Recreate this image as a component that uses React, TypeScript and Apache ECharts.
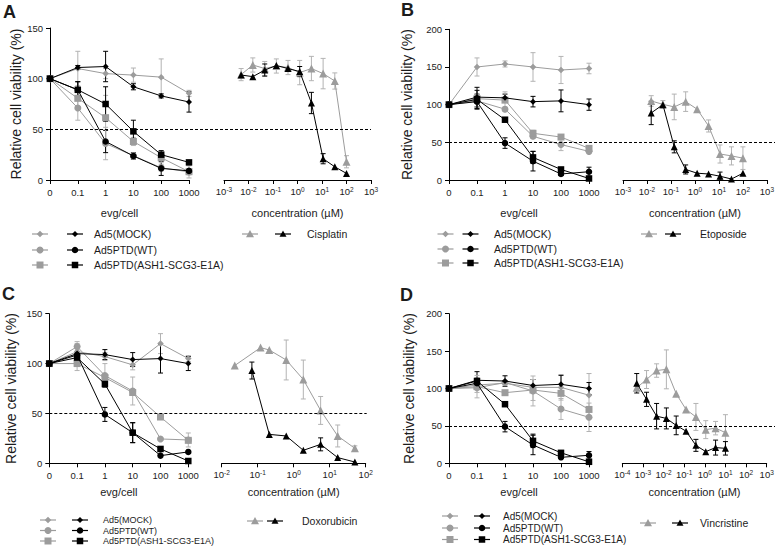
import React, { useEffect, useRef } from 'react';
import * as echarts from 'echarts';

// ---------- categories & labels ----------
const evgCategories = ['0', '0.1', '1', '10', '100', '1000'];
const legendNames = ['Ad5(MOCK)', 'Ad5PTD(WT)', 'Ad5PTD(ASH1-SCG3-E1A)'];
const drugNames = ['Cisplatin', 'Etoposide', 'Doxorubicin', 'Vincristine'];
const panelLetters = ['A', 'B', 'C', 'D'];
const yTitle = 'Relative cell viability (%)';
const xTitleLeft = 'evg/cell';
const xTitleRight = 'concentration (µM)';
const threshold = 50;

// ---------- Panel A (Cisplatin) ----------
const A_mockGray = [100, 110, 105, 103.5, 101.5, 85.5];
const A_mockGraySd = [0, 17, 5, 7, 18, 3];
const A_mockBlack = [100, 111, 112, 92, 83, 77];
const A_mockBlackSd = [0, 2, 15, 3, 2, 10];
const A_wtGray = [100, 71, 36, 24, 12, 8];
const A_wtGraySd = [0, 12, 16, 3, 3, 6];
const A_wtBlack = [100, 89, 38, 23.7, 11.5, 9];
const A_wtBlackSd = [0, 8, 11, 3, 7, 1];
const A_ashGray = [100, 80.6, 61.5, 38, 22, 8.2];
const A_ashGraySd = [0, 8, 22, 4, 5, 3];
const A_ashBlack = [100, 89, 75, 48, 25, 17.4];
const A_ashBlackSd = [0, 8, 17, 11, 4, 1];
const A_concGray = [0.005, 0.015, 0.046, 0.137, 0.41, 1.23, 3.7, 11.1, 33.3, 100];
const A_drugGray = [104, 113.5, 110, 112.5, 111, 106, 110, 105, 97.7, 18];
const A_drugGraySd = [6, 7, 7, 7, 7, 12, 12, 15, 8, 6];
const A_concBlack = [0.005, 0.015, 0.046, 0.137, 0.41, 1.23, 3.7, 11.1, 33.3, 100];
const A_drugBlack = [103.6, 102, 108.5, 113, 110, 107, 76, 21, 13, 6.5];
const A_drugBlackSd = [0, 0, 6, 0, 0, 5, 10.5, 5, 0, 0];

// ---------- Panel B (Etoposide) ----------
const B_mockGray = [100, 150, 154, 150, 146, 148];
const B_mockGraySd = [0, 12, 4, 19, 18, 7];
const B_mockBlack = [100, 110, 109, 104, 105, 100];
const B_mockBlackSd = [0, 13, 5, 7, 14.5, 7.5];
const B_wtGray = [100, 105, 94, 58, 47, 38];
const B_wtGraySd = [0, 8, 3, 3, 8, 3];
const B_wtBlack = [100, 104, 49, 25, 8, 11];
const B_wtBlackSd = [0, 10, 7, 13, 2, 6];
const B_ashGray = [100, 108, 106, 62, 57, 42];
const B_ashGraySd = [0, 5, 11, 4, 2, 3];
const B_ashBlack = [100, 107, 80, 30, 14, 2];
const B_ashBlackSd = [0, 12, 2, 8, 2, 1];
const B_concGray = [0.015, 0.046, 0.137, 0.41, 1.23, 3.7, 11.1, 33.3, 100];
const B_drugGray = [104.9, 100.4, 97, 104, 94, 71.7, 34.5, 32, 29];
const B_drugGraySd = [7, 5, 17, 13, 0, 8, 12, 12, 15];
const B_concBlack = [0.015, 0.046, 0.137, 0.41, 1.23, 3.7, 11.1, 33.3, 100];
const B_drugBlack = [89, 100, 44, 14, 9, 8, 5, 1.3, 9];
const B_drugBlackSd = [15.5, 0, 8, 6, 0, 0, 5.5, 0, 0];

// ---------- Panel C (Doxorubicin) ----------
const C_mockGray = [100, 112, 107, 98.7, 120, 105];
const C_mockGraySd = [0, 8, 4, 5, 10, 3];
const C_mockBlack = [100, 110, 109, 104, 105, 100];
const C_mockBlackSd = [0, 0, 5, 7, 14.5, 7];
const C_wtGray = [100, 117, 88, 72.5, 24.4, 23.4];
const C_wtGraySd = [0, 5, 12, 14, 0, 7];
const C_wtBlack = [100, 108.6, 49, 30.7, 7.7, 11.4];
const C_wtBlackSd = [0, 0, 7, 10, 0, 0];
const C_ashGray = [100, 100, 86, 71, 46.4, 23];
const C_ashGraySd = [0, 7, 0, 0, 0, 0];
const C_ashBlack = [100, 106, 79.5, 30.7, 14.4, 2.3];
const C_ashBlackSd = [0, 0, 3, 10, 0, 0];
const C_concGray = [0.023, 0.12, 0.21, 0.62, 1.85, 5.6, 16.7, 50];
const C_drugGray = [98, 116, 113.6, 103.6, 84, 53, 27.4, 15];
const C_drugGraySd = [0, 0, 0, 20, 19.5, 14, 11, 2.5];
const C_concBlack = [0.069, 0.21, 0.62, 1.85, 5.6, 16.7, 50];
const C_drugBlack = [93, 29, 27.4, 13, 19, 5.7, 1.3];
const C_drugBlackSd = [8.5, 0, 0, 0, 6.5, 0, 0];

// ---------- Panel D (Vincristine) ----------
const D_mockGray = [100, 104.7, 107, 101.5, 101.5, 91];
const D_mockGraySd = [0, 10, 0, 0, 17, 29];
const D_mockBlack = [100, 111, 110, 104, 105.6, 100];
const D_mockBlackSd = [0, 11.5, 7, 8, 12, 8];
const D_wtGray = [100, 101, 108, 96.7, 72.6, 61.5];
const D_wtGraySd = [0, 0, 0, 20, 14, 19];
const D_wtBlack = [100, 107, 49, 24.5, 8, 10.7];
const D_wtBlackSd = [0, 0, 7, 13, 0, 5];
const D_ashGray = [100, 102.5, 94.4, 98, 93.5, 72];
const D_ashGraySd = [0, 15, 0, 14, 0, 0];
const D_ashBlack = [100, 110, 79, 30, 14, 2];
const D_ashBlackSd = [0, 0, 0, 9, 0, 0];
const D_concGray = [0.0005, 0.0015, 0.0046, 0.0137, 0.041, 0.123, 0.37, 1.11, 3.33, 10];
const D_drugGray = [101, 112, 124, 125.6, 93, 72, 62, 45, 47, 41];
const D_drugGraySd = [0, 12, 9, 26, 0, 0, 18, 12, 9, 24];
const D_concBlack = [0.0005, 0.0015, 0.0046, 0.0137, 0.041, 0.123, 0.37, 1.11, 3.33, 10];
const D_drugBlack = [107, 85.5, 63, 60, 50.7, 43, 24, 15.6, 21, 20];
const D_drugBlackSd = [13, 9.5, 17, 14, 12.5, 0, 8, 0, 10, 9];

// ---------- styles ----------
const FONT = '"Liberation Sans", Arial, Helvetica, sans-serif';
const GRAY = '#9c9c9c';
const GRAY_ERR = '#b3b3b3';
const BLACK = '#000000';
const TEXT = '#1c1c1c';
const SHAPES = ['diamond', 'circle', 'rect'];
const SIZES = [6.5, 7, 7];

type Panel = {
  left: number[][]; leftSd: number[][]; // order: mockG, mockB, wtG, wtB, ashG, ashB
  concG: number[]; drugG: number[]; drugGSd: number[];
  concB: number[]; drugB: number[]; drugBSd: number[];
};

const panels: Panel[] = [
  {
    left: [A_mockGray, A_mockBlack, A_wtGray, A_wtBlack, A_ashGray, A_ashBlack],
    leftSd: [A_mockGraySd, A_mockBlackSd, A_wtGraySd, A_wtBlackSd, A_ashGraySd, A_ashBlackSd],
    concG: A_concGray, drugG: A_drugGray, drugGSd: A_drugGraySd,
    concB: A_concBlack, drugB: A_drugBlack, drugBSd: A_drugBlackSd,
  },
  {
    left: [B_mockGray, B_mockBlack, B_wtGray, B_wtBlack, B_ashGray, B_ashBlack],
    leftSd: [B_mockGraySd, B_mockBlackSd, B_wtGraySd, B_wtBlackSd, B_ashGraySd, B_ashBlackSd],
    concG: B_concGray, drugG: B_drugGray, drugGSd: B_drugGraySd,
    concB: B_concBlack, drugB: B_drugBlack, drugBSd: B_drugBlackSd,
  },
  {
    left: [C_mockGray, C_mockBlack, C_wtGray, C_wtBlack, C_ashGray, C_ashBlack],
    leftSd: [C_mockGraySd, C_mockBlackSd, C_wtGraySd, C_wtBlackSd, C_ashGraySd, C_ashBlackSd],
    concG: C_concGray, drugG: C_drugGray, drugGSd: C_drugGraySd,
    concB: C_concBlack, drugB: C_drugBlack, drugBSd: C_drugBlackSd,
  },
  {
    left: [D_mockGray, D_mockBlack, D_wtGray, D_wtBlack, D_ashGray, D_ashBlack],
    leftSd: [D_mockGraySd, D_mockBlackSd, D_wtGraySd, D_wtBlackSd, D_ashGraySd, D_ashBlackSd],
    concG: D_concGray, drugG: D_drugGray, drugGSd: D_drugGraySd,
    concB: D_concBlack, drugB: D_drugBlack, drugBSd: D_drugBlackSd,
  },
];

// ---------- layout (pixels) ----------
const layouts = [
  { letter: [3, 3], lx: [50, 189], rx: [224, 371], top: 28, bottom: 180, dashEnd: 371,
    logMin: 1e-3, logMax: 1e3, yMax: 150, yNameGap: 27, xNameGap: 27,
    rows: [234, 250, 265], grayX: 40, blackX: 75, textX: 94, legendFont: 10.5,
    drugY: 234, drugGrayX: 250, drugBlackX: 283, drugTextX: 307 },
  { letter: [401, 1], lx: [449, 589], rx: [623, 770], top: 29.3, bottom: 180, dashEnd: 775,
    logMin: 1e-3, logMax: 1e3, yMax: 200, yNameGap: 35, xNameGap: 27,
    rows: [234, 249, 263], grayX: 445.5, blackX: 470.5, textX: 494, legendFont: 10.5,
    drugY: 234, drugGrayX: 649, drugBlackX: 673, drugTextX: 700 },
  { letter: [2, 285], lx: [49.3, 188.3], rx: [221.7, 365.7], top: 313.7, bottom: 463.3, dashEnd: 366.7,
    logMin: 1e-2, logMax: 1e2, yMax: 150, yNameGap: 31, xNameGap: 23,
    rows: [520, 530.5, 541], grayX: 48, blackX: 80, textX: 103, legendFont: 9,
    drugY: 521, drugGrayX: 255, drugBlackX: 275, drugTextX: 302 },
  { letter: [400, 286], lx: [449, 589], rx: [622.3, 766.7], top: 313.7, bottom: 463.3, dashEnd: 775,
    logMin: 1e-4, logMax: 1e3, yMax: 200, yNameGap: 33, xNameGap: 23,
    rows: [516, 528, 539.5], grayX: 450, blackX: 482, textX: 503, legendFont: 10,
    drugY: 523, drugGrayX: 648, drugBlackX: 680, drugTextX: 700 },
];

function errSeries(axisIdx: number, data: any[], color: string) {
  return {
    type: 'custom',
    xAxisIndex: axisIdx,
    yAxisIndex: axisIdx,
    data,
    encode: { x: 0, y: 1 },
    z: 1,
    silent: true,
    renderItem: (params: any, api: any) => {
      const x = api.value(0);
      const y = api.value(1);
      const e = api.value(2);
      if (!e) return { type: 'group', children: [] };
      const hi = api.coord([x, y + e]);
      const lo = api.coord([x, Math.max(0, y - e)]);
      const c = 2.5;
      const style = { stroke: color, lineWidth: 1, fill: null };
      return {
        type: 'group',
        children: [
          { type: 'line', shape: { x1: hi[0], y1: hi[1], x2: lo[0], y2: lo[1] }, style },
          { type: 'line', shape: { x1: hi[0] - c, y1: hi[1], x2: hi[0] + c, y2: hi[1] }, style },
          { type: 'line', shape: { x1: lo[0] - c, y1: lo[1], x2: lo[0] + c, y2: lo[1] }, style },
        ],
      };
    },
  };
}

function lineSeries(axisIdx: number, data: any[], color: string, symbol: string, size: number, z: number) {
  return {
    type: 'line',
    xAxisIndex: axisIdx,
    yAxisIndex: axisIdx,
    data,
    symbol,
    symbolSize: size,
    showSymbol: true,
    lineStyle: { color, width: 1 },
    itemStyle: { color, borderWidth: 0 },
    z,
    silent: true,
  };
}

function marker(shape: string, cx: number, cy: number, size: number, color: string) {
  const h = size / 2;
  if (shape === 'circle') return { type: 'circle', shape: { cx, cy, r: h }, style: { fill: color } };
  if (shape === 'rect') return { type: 'rect', shape: { x: cx - h, y: cy - h, width: size, height: size }, style: { fill: color } };
  if (shape === 'diamond')
    return { type: 'polygon', shape: { points: [[cx, cy - h], [cx + h, cy], [cx, cy + h], [cx - h, cy]] }, style: { fill: color } };
  return { type: 'polygon', shape: { points: [[cx, cy - h], [cx + h, cy + h * 0.8], [cx - h, cy + h * 0.8]] }, style: { fill: color } };
}

function legendItem(shape: string, cx: number, cy: number, size: number, color: string, half: number) {
  return [
    { type: 'line', shape: { x1: cx - half, y1: cy, x2: cx + half, y2: cy }, style: { stroke: color, lineWidth: 1.2 } },
    marker(shape, cx, cy, size, color),
  ];
}

function txt(text: string, x: number, y: number, font: string, align = 'left', vAlign = 'middle') {
  return {
    type: 'text',
    style: { text, x, y, font, fill: TEXT, align, verticalAlign: vAlign, textAlign: align, textVerticalAlign: vAlign },
  };
}

function buildOption() {
  const grid: any[] = [];
  const xAxis: any[] = [];
  const yAxis: any[] = [];
  const series: any[] = [];
  const graphic: any[] = [];

  const axisLine = { show: true, lineStyle: { color: BLACK, width: 1 } };
  const axisTick = { show: true, length: 4, lineStyle: { color: BLACK, width: 1 } };
  const labelStyle = { fontSize: 9.5, color: TEXT, fontFamily: FONT };

  panels.forEach((p, pi) => {
    const L = layouts[pi];
    const gL = pi * 3, gR = pi * 3 + 1, gO = pi * 3 + 2;
    const h = L.bottom - L.top;
    grid.push({ left: L.lx[0], top: L.top, width: L.lx[1] - L.lx[0], height: h });
    grid.push({ left: L.rx[0], top: L.top, width: L.rx[1] - L.rx[0], height: h });
    grid.push({ left: L.lx[0], top: L.top, width: L.dashEnd - L.lx[0], height: h });

    // left grid axes
    xAxis.push({
      gridIndex: gL, type: 'category', data: evgCategories, boundaryGap: false,
      axisLine, axisTick: { ...axisTick, interval: 0 },
      axisLabel: { ...labelStyle, margin: 7, interval: 0 },
      splitLine: { show: false },
      name: xTitleLeft, nameLocation: 'middle', nameGap: L.xNameGap,
      nameTextStyle: { fontSize: 11, color: TEXT, fontFamily: FONT },
    });
    yAxis.push({
      gridIndex: gL, type: 'value', min: 0, max: L.yMax, interval: 50,
      axisLine, axisTick, axisLabel: { ...labelStyle, margin: 7 },
      splitLine: { show: false },
      name: yTitle, nameLocation: 'middle', nameGap: L.yNameGap,
      nameTextStyle: { fontSize: 14, color: TEXT, fontFamily: FONT },
    });
    // right grid axes
    xAxis.push({
      gridIndex: gR, type: 'log', logBase: 10, min: L.logMin, max: L.logMax,
      axisLine, axisTick, minorTick: { show: false }, splitLine: { show: false },
      axisLabel: {
        ...labelStyle, margin: 6,
        formatter: (v: number) => '10{s|' + Math.round(Math.log10(v)) + '}',
        rich: { s: { fontSize: 6.5, verticalAlign: 'top', color: TEXT, fontFamily: FONT, padding: [0, 0, 3, 0] } },
      },
      name: xTitleRight, nameLocation: 'middle', nameGap: L.xNameGap,
      nameTextStyle: { fontSize: 11, color: TEXT, fontFamily: FONT },
    });
    yAxis.push({ gridIndex: gR, type: 'value', min: 0, max: L.yMax, show: false });
    // overlay grid (dashed 50% line)
    xAxis.push({ gridIndex: gO, type: 'value', min: 0, max: 1, show: false });
    yAxis.push({ gridIndex: gO, type: 'value', min: 0, max: L.yMax, show: false });
    series.push({
      type: 'line', xAxisIndex: gO, yAxisIndex: gO, data: [], silent: true,
      markLine: {
        silent: true, symbol: ['none', 'none'], label: { show: false },
        lineStyle: { color: BLACK, width: 1, type: [3, 2] },
        data: [{ yAxis: threshold }],
      },
    });

    // left series: gray then black per group
    p.left.forEach((vals, si) => {
      const isGray = si % 2 === 0;
      const grp = Math.floor(si / 2);
      const color = isGray ? GRAY : BLACK;
      const sd = p.leftSd[si];
      series.push(errSeries(gL, vals.map((v, i) => [evgCategories[i], v, sd[i]]), isGray ? GRAY_ERR : BLACK));
      series.push(lineSeries(gL, vals.map((v, i) => [evgCategories[i], v]), color, SHAPES[grp], SIZES[grp] - (isGray ? 0 : 0.5), isGray ? 2 : 3));
    });

    // right series
    series.push(errSeries(gR, p.drugG.map((v, i) => [p.concG[i], v, p.drugGSd[i]]), GRAY_ERR));
    series.push(lineSeries(gR, p.drugG.map((v, i) => [p.concG[i], v]), GRAY, 'triangle', 8, 2));
    series.push(errSeries(gR, p.drugB.map((v, i) => [p.concB[i], v, p.drugBSd[i]]), BLACK));
    series.push(lineSeries(gR, p.drugB.map((v, i) => [p.concB[i], v]), BLACK, 'triangle', 7, 3));

    // panel letter
    graphic.push(txt(panelLetters[pi], L.letter[0], L.letter[1], `bold 18px ${FONT}`, 'left', 'top'));

    // legend
    const lf = `${L.legendFont}px ${FONT}`;
    legendNames.forEach((name, ri) => {
      const y = L.rows[ri];
      graphic.push(...legendItem(SHAPES[ri], L.grayX, y, SIZES[ri], GRAY, 8));
      graphic.push(...legendItem(SHAPES[ri], L.blackX, y, SIZES[ri] - 0.5, BLACK, 8));
      graphic.push(txt(name, L.textX, y, lf));
    });
    graphic.push(...legendItem('triangle', L.drugGrayX, L.drugY, 8, GRAY, 8));
    graphic.push(...legendItem('triangle', L.drugBlackX, L.drugY, 7, BLACK, 8));
    graphic.push(txt(drugNames[pi], L.drugTextX, L.drugY, `10.5px ${FONT}`));
  });

  return {
    animation: false,
    backgroundColor: '#ffffff',
    textStyle: { fontFamily: FONT },
    grid,
    xAxis,
    yAxis,
    series,
    graphic,
  };
}

export default function App() {
  const ref = useRef<HTMLDivElement>(null);
  useEffect(() => {
    if (!ref.current) return;
    const chart = echarts.init(ref.current, undefined, { renderer: 'svg' });
    chart.setOption(buildOption() as any);
    return () => chart.dispose();
  }, []);
  return (
    <div
      ref={ref}
      style={{ position: 'absolute', left: 0, top: 0, width: 777, height: 547, background: '#fff' }}
    />
  );
}
